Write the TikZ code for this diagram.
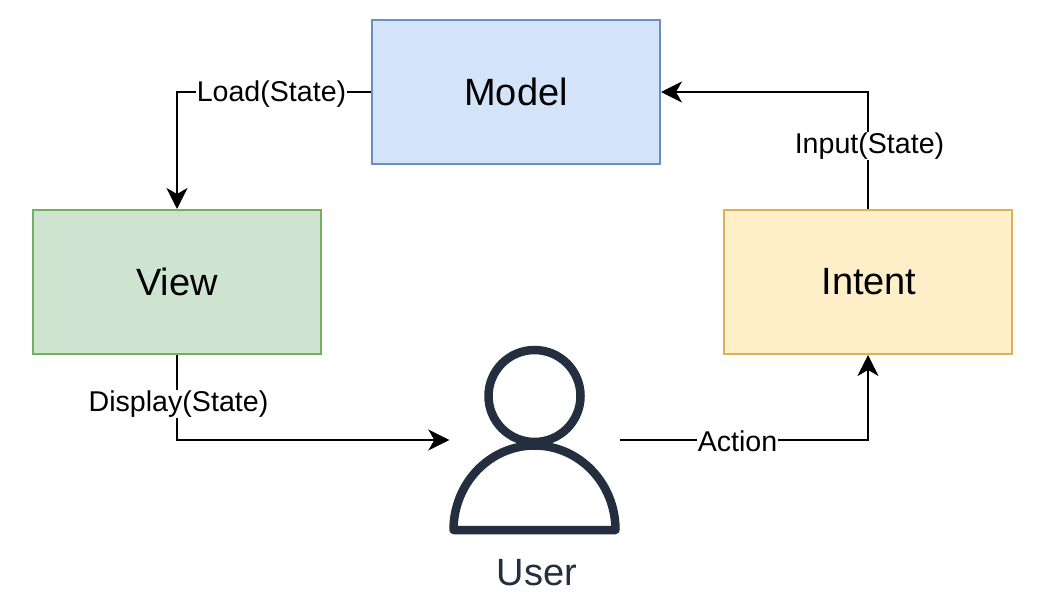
\documentclass[tikz,border=0pt]{standalone}
\usepackage{fontspec}
\setmainfont{Liberation Sans}
\usetikzlibrary{arrows.meta}
\definecolor{bluefill}{HTML}{D3E3F9}
\definecolor{bluedraw}{HTML}{6C8FBF}
\definecolor{greenfill}{HTML}{CEE4D1}
\definecolor{greendraw}{HTML}{74AE62}
\definecolor{yellowfill}{HTML}{FEEFC9}
\definecolor{yellowdraw}{HTML}{DDB257}
\definecolor{userink}{HTML}{232F3E}
\tikzset{
  box/.style={draw, line width=2pt, minimum width=288pt, minimum height=144pt, inner sep=0pt,
    font=\fontsize{38}{44}\selectfont},
  conn/.style={draw=black, line width=2pt, -{Stealth[length=21pt,width=21pt,inset=6pt]}},
  lbl/.style={fill=white, inner xsep=1pt, inner ysep=1pt, font=\fontsize{28.6}{33}\selectfont},
  personline/.style={draw=userink, line width=8.5pt, line join=round, fill=white},
}
\begin{document}
\begin{tikzpicture}[x=1pt,y=-1pt]
\useasboundingbox[fill=white] (0,0) rectangle (1044,604);
\node[box, fill=bluefill, draw=bluedraw] (model) at (516,92) {Model};
\node[box, fill=greenfill, draw=greendraw] (view) at (177,282) {\raisebox{1pt}{View}};
\node[box, fill=yellowfill, draw=yellowdraw] (intent) at (868,282) {\hspace{2pt}Intent};
\node[minimum width=170pt, minimum height=187pt, inner sep=0pt] (user) at (534.5,440) {};
\draw[personline] (453.5,530) arc[start angle=180, end angle=360, x radius=81, y radius=84.5] -- cycle;
\draw[personline] (534.5,396) circle[radius=46];
\node[text=userink, font=\fontsize{38}{44}\selectfont] (userlabel) at (537,572.5) {User};
\draw[conn] (model.west) -| (view.north);
\draw[conn] (intent.north) |- (model.east);
\draw[conn] (view.south) |- (user.west);
\draw[conn] (user.east) -| (intent.south);
\node[lbl] (l1) at (271.5,94) {Load(State)};
\node[lbl] (l2) at (869.5,146) {Input(State)};
\node[lbl] (l3) at (178.5,404) {Display(State)};
\node[lbl] (l4) at (737.5,441) {Action};
\end{tikzpicture}
\end{document}
